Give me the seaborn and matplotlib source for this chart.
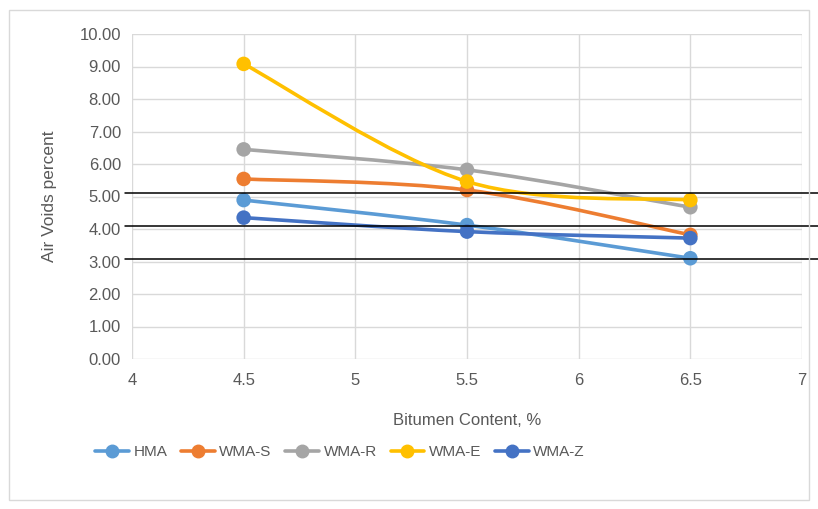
import numpy as np
import matplotlib
matplotlib.use("Agg")
import matplotlib.pyplot as plt
from matplotlib.path import Path
from matplotlib.patches import PathPatch
from matplotlib.lines import Line2D
import pandas as pd
import seaborn as sns

# data
bitumen = [4.5, 5.5, 6.5]
hma = [4.89, 4.12, 3.10]
wma_s = [5.54, 5.20, 3.82]
wma_r = [6.45, 5.82, 4.67]
wma_e = [9.08, 5.46, 4.89]
wma_z = [4.35, 3.92, 3.72]
series_names = ["HMA", "WMA-S", "WMA-R", "WMA-E", "WMA-Z"]
ref_lines = [5.11, 4.08, 3.09]

colors = ["#5B9BD5", "#ED7D31", "#A5A5A5", "#FFC000", "#4472C4"]

df = pd.DataFrame({"Bitumen": bitumen * 5,
                   "AV": hma + wma_s + wma_r + wma_e + wma_z,
                   "Mix": sum([[n] * 3 for n in series_names], [])})

sns.set_style("white")
plt.rcParams["font.family"] = ["Liberation Sans", "DejaVu Sans"]

fig = plt.figure(figsize=(8.18, 5.09), dpi=100)
ax = fig.add_axes([132 / 818, 1 - 359 / 509, 670 / 818, 325 / 509])

# smoothed lines like Excel (Catmull-Rom -> Bezier)
def smooth_path(xs, ys):
    pts = np.column_stack([xs, ys])
    n = len(pts)
    verts = [pts[0]]
    codes = [Path.MOVETO]
    for i in range(n - 1):
        p0 = pts[max(i - 1, 0)]
        p1 = pts[i]
        p2 = pts[i + 1]
        p3 = pts[min(i + 2, n - 1)]
        c1 = p1 + (p2 - p0) / 6
        c2 = p2 - (p3 - p1) / 6
        verts += [c1, c2, p2]
        codes += [Path.CURVE4] * 3
    return Path(verts, codes)

for name, c in zip(series_names, colors):
    sub = df[df["Mix"] == name]
    ax.add_patch(PathPatch(smooth_path(sub["Bitumen"].values, sub["AV"].values),
                           facecolor="none", edgecolor=c, lw=2.6, zorder=3))

sns.scatterplot(data=df, x="Bitumen", y="AV", hue="Mix", palette=colors,
                s=110, edgecolor="none", legend=False, ax=ax, zorder=4)

ax.set_xlim(4, 7)
ax.set_ylim(0, 10)
ax.set_xticks(np.arange(4, 7.01, 0.5))
ax.set_xticklabels(["4", "4.5", "5", "5.5", "6", "6.5", "7"])
ax.set_yticks(np.arange(0, 10.01, 1))
ax.set_yticklabels([f"{v:.2f}" for v in np.arange(0, 10.01, 1)])
ax.grid(True, color="#D9D9D9", lw=1)
for s in ax.spines.values():
    s.set_visible(False)
ax.tick_params(axis="both", length=0, labelsize=12, colors="#595959")
ax.tick_params(axis="y", pad=8)
ax.tick_params(axis="x", pad=10)
ax.set_xlabel("Bitumen Content, %", fontsize=12, color="#595959", labelpad=18)
ax.set_ylabel("Air Voids percent", fontsize=12.5, color="#595959", labelpad=16)

# black reference lines drawn across the chart
for yv in ref_lines:
    ax.axhline(yv, xmin=-0.01, xmax=1.03, color="black", lw=1.1, zorder=5, clip_on=False)

handles = [Line2D([0], [0], color=c, lw=2.6, marker="o", markersize=9) for c in colors]
fig.legend(handles, series_names, loc="center", bbox_to_anchor=(340 / 818, 1 - 452 / 509),
           ncol=5, frameon=False, fontsize=11, handlelength=2.2, columnspacing=0.9,
           handletextpad=0.3, labelcolor="#595959")

# chart border
fig.patches.append(plt.Rectangle((9 / 818, 1 - 500 / 509), 800 / 818, 490 / 509,
                                 transform=fig.transFigure, fill=False,
                                 edgecolor="#D9D9D9", lw=1))

fig.savefig("out.png", dpi=100)
